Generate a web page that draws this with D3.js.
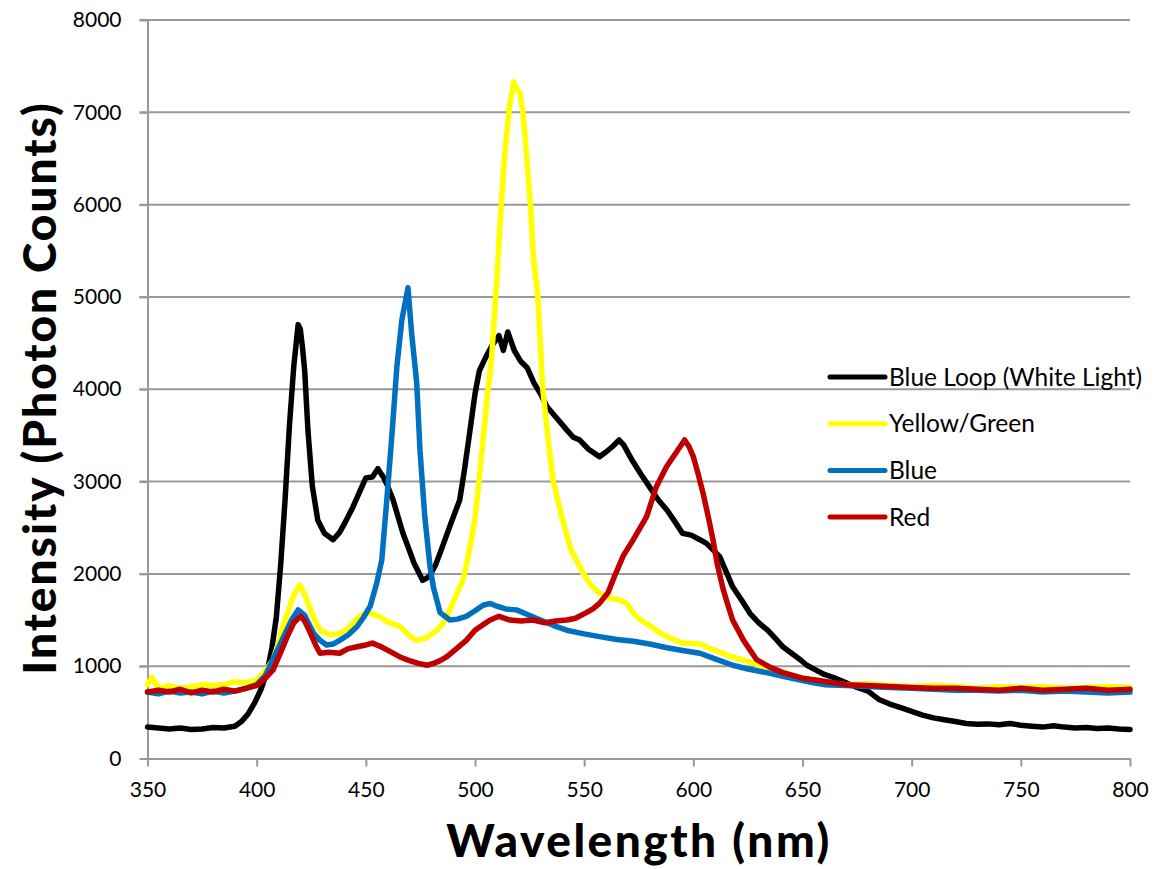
<!DOCTYPE html>
<html>
<head>
<meta charset="utf-8">
<script src="https://cdn.jsdelivr.net/npm/d3@7"></script>
<style>
  body { margin: 0; background: #fff; }
  svg text { font-family: Lato, "Open Sans", sans-serif; fill: #000; }
  .axis path, .axis line { stroke: #999; stroke-width: 2; }
  .grid { stroke: #999; stroke-width: 2; }
  .series { fill: none; stroke-width: 5.5; stroke-linejoin: round; stroke-linecap: round; }
</style>
</head>
<body>
<div id="chart"></div>
<script>
// tick values
var xTicks = [350, 400, 450, 500, 550, 600, 650, 700, 750, 800];
var yTicks = [0, 1000, 2000, 3000, 4000, 5000, 6000, 7000, 8000];

// Blue Loop (White Light)
var blackWl = [350, 355, 360, 365, 370, 375, 380, 385, 390, 393, 396, 399, 402, 405, 407, 409, 411, 413, 415, 417, 419, 420, 421, 422, 423.5, 425.5, 428, 431, 435, 438, 441, 444, 447, 450, 453, 455.5, 458, 460, 462.5, 465, 467, 470, 472, 476, 479, 482, 485, 489, 493, 495, 497.5, 500, 502, 505, 508, 511, 513, 515, 518, 521, 524, 527, 530, 533, 537, 542, 545, 548, 552, 557, 560, 563, 566, 568, 572, 576, 580, 584, 588, 592, 595, 599, 603, 606, 609, 612, 616, 618, 622, 626, 630, 634, 638, 641, 645, 649, 652, 656, 660, 664, 670, 675, 680, 685, 690, 695, 700, 705, 710, 715, 720, 725, 730, 735, 740, 745, 750, 755, 760, 765, 770, 775, 780, 785, 790, 795, 800];
var blackVal = [340, 330, 320, 330, 315, 320, 335, 330, 350, 400, 480, 600, 750, 960, 1200, 1530, 2100, 2800, 3600, 4250, 4700, 4650, 4450, 4200, 3550, 2950, 2580, 2440, 2370, 2450, 2580, 2720, 2880, 3040, 3050, 3140, 3050, 2950, 2800, 2600, 2440, 2250, 2120, 1930, 1970, 2100, 2290, 2550, 2800, 3100, 3520, 3950, 4200, 4350, 4480, 4580, 4420, 4620, 4420, 4300, 4230, 4070, 3950, 3810, 3700, 3560, 3480, 3450, 3350, 3270, 3320, 3380, 3450, 3400, 3230, 3080, 2940, 2800, 2690, 2550, 2440, 2420, 2370, 2330, 2260, 2190, 1970, 1860, 1720, 1570, 1470, 1390, 1290, 1210, 1140, 1070, 1010, 960, 910, 880, 820, 770, 730, 640, 590, 550, 510, 470, 440, 420, 400, 380, 370, 375, 365, 380, 360, 350, 340, 355, 340, 330, 335, 325, 330, 320, 315];

// Yellow/Green
var yellowWl = [350, 352, 355, 360, 365, 370, 375, 380, 385, 390, 395, 400, 404, 407.5, 410, 412, 414.5, 416.6, 419.8, 422, 424, 427, 429, 433.6, 437, 441, 444, 447, 451, 456, 460, 465.6, 470, 473, 477, 481, 485, 488.5, 491, 494.5, 497, 500, 502, 503.7, 505.5, 507.5, 510, 512, 513.8, 516, 517.8, 519, 520.5, 522, 523.8, 525.6, 526.6, 528.8, 531, 533.4, 535.7, 539.7, 544, 549.5, 553, 557, 561, 566, 569.5, 573, 576, 580, 584.7, 590, 595, 603, 610, 618, 625, 633.6, 640, 648.7, 655, 660, 670, 680, 690, 700, 710, 720, 730, 740, 750, 760, 770, 780, 790, 800];
var yellowVal = [800, 880, 760, 790, 760, 780, 800, 790, 800, 830, 820, 850, 950, 1070, 1250, 1430, 1600, 1750, 1880, 1780, 1650, 1480, 1390, 1340, 1350, 1390, 1470, 1540, 1580, 1540, 1480, 1430, 1330, 1280, 1300, 1360, 1450, 1610, 1750, 1930, 2200, 2600, 3050, 3450, 3900, 4300, 5200, 6000, 6600, 7100, 7330, 7250, 7220, 6990, 6480, 5940, 5470, 5000, 4010, 3480, 3020, 2620, 2260, 2010, 1880, 1790, 1740, 1720, 1680, 1560, 1500, 1440, 1360, 1300, 1250, 1240, 1170, 1100, 1050, 990, 940, 880, 850, 820, 800, 810, 790, 780, 790, 780, 760, 780, 770, 780, 760, 770, 780, 770];

// Blue
var blueWl = [350, 355, 360, 365, 370, 375, 380, 385, 390, 395, 400, 404, 408, 412, 416, 419, 422, 426, 429, 432, 435, 438, 442, 446, 449, 452, 455, 457.3, 459.6, 462, 464.2, 466.5, 469.3, 471, 473.3, 474.8, 477, 479.4, 481, 484, 488.5, 492, 496, 500, 503.7, 507, 510, 514, 519, 524, 530, 536, 542, 550, 557, 565, 572.5, 580, 588, 595, 603, 610, 618, 625, 633.6, 641, 649, 655, 660, 670, 680, 690, 700, 710, 720, 730, 740, 750, 760, 770, 780, 790, 800];
var blueVal = [720, 700, 730, 710, 720, 700, 730, 710, 730, 760, 800, 900, 1100, 1300, 1500, 1610, 1550, 1360, 1280, 1230, 1240, 1280, 1340, 1430, 1530, 1650, 1900, 2150, 2800, 3520, 4240, 4750, 5100, 4600, 4070, 3340, 2620, 2080, 1850, 1580, 1500, 1510, 1540, 1600, 1660, 1680, 1650, 1620, 1610, 1560, 1500, 1440, 1390, 1350, 1320, 1290, 1270, 1240, 1200, 1170, 1140, 1080, 1010, 970, 930, 890, 850, 820, 800, 790, 780, 770, 760, 750, 740, 740, 730, 740, 720, 730, 720, 710, 720];

// Red
var redWl = [350, 355, 360, 365, 370, 375, 380, 385, 390, 395, 400, 404, 407.5, 411, 414, 417, 420, 422, 424, 427, 429, 433, 438, 442, 446, 450, 453, 457, 461, 465.6, 470, 474, 478, 481, 484, 487, 491, 496, 500, 503.7, 507, 511, 516, 521, 526.6, 532, 537, 542, 546, 551, 554, 557, 561, 564, 568, 572.5, 578.6, 583, 587.7, 592, 596, 598, 600, 602, 604.5, 607, 609, 611, 613.7, 616, 618, 623, 629, 635, 641, 650, 656, 664, 670, 680, 690, 700, 710, 720, 730, 740, 750, 760, 770, 780, 790, 800];
var redVal = [720, 740, 720, 750, 710, 740, 720, 750, 730, 760, 790, 870, 960, 1150, 1320, 1470, 1540, 1490, 1390, 1230, 1140, 1150, 1140, 1190, 1210, 1230, 1250, 1210, 1160, 1100, 1060, 1030, 1010, 1030, 1060, 1100, 1180, 1280, 1390, 1450, 1500, 1540, 1500, 1490, 1500, 1470, 1490, 1500, 1520, 1580, 1620, 1680, 1800, 1980, 2200, 2370, 2620, 2940, 3160, 3310, 3450, 3380, 3270, 3100, 2870, 2600, 2370, 2100, 1830, 1650, 1500, 1280, 1070, 990, 930, 870, 850, 820, 800, 790, 780, 770, 760, 760, 750, 740, 760, 740, 750, 760, 740, 750];

var seriesNames = ["Blue Loop (White Light)", "Yellow/Green", "Blue", "Red"];
var seriesColors = ["#000000", "#FFFF00", "#0070C0", "#C00000"];

var width = 1163, height = 869;
var margin = {top: 20, right: 33, bottom: 110.5, left: 147.5};

var svg = d3.select("#chart").append("svg")
    .attr("width", width)
    .attr("height", height);

var xScale = d3.scaleLinear().domain([350, 800]).range([margin.left, width - margin.right]);
var yScale = d3.scaleLinear().domain([0, 8000]).range([height - margin.bottom, margin.top]);

// horizontal grid lines
svg.selectAll("line.grid").data(yTicks.slice(1)).enter()
    .append("line")
    .attr("class", "grid")
    .attr("x1", margin.left - 8)
    .attr("x2", width - margin.right)
    .attr("y1", function(d) { return yScale(d); })
    .attr("y2", function(d) { return yScale(d); });

// axes
svg.append("g")
    .attr("class", "axis")
    .attr("transform", `translate(${margin.left},0)`)
    .call(d3.axisLeft(yScale).tickValues(yTicks).tickFormat(d3.format("d"))
        .tickSize(8).tickPadding(18).tickSizeOuter(0));
svg.append("g")
    .attr("class", "axis")
    .attr("transform", `translate(0,${yScale(0)})`)
    .call(d3.axisBottom(xScale).tickValues(xTicks).tickFormat(d3.format("d"))
        .tickSize(8).tickPadding(16).tickSizeOuter(0));
svg.selectAll(".axis text")
    .style("font-size", "21px")
    .style("font-family", "Lato, sans-serif");

// series lines (black first, red on top)
var seriesData = [
    {wl: blackWl, val: blackVal},
    {wl: yellowWl, val: yellowVal},
    {wl: blueWl, val: blueVal},
    {wl: redWl, val: redVal}
];
var line = d3.line()
    .x(function(d) { return xScale(d[0]); })
    .y(function(d) { return yScale(d[1]); });

seriesData.forEach(function(s, i) {
    var pts = s.wl.map(function(w, j) { return [w, s.val[j]]; });
    svg.append("path")
        .datum(pts)
        .attr("class", "series")
        .attr("stroke", seriesColors[i])
        .attr("d", line);
});

// legend
var legend = svg.append("g").attr("transform", "translate(830,377)");
seriesNames.forEach(function(name, i) {
    var g = legend.append("g").attr("transform", `translate(0,${i * 46.7})`);
    g.append("line")
        .attr("x1", 0).attr("x2", 55)
        .attr("stroke", seriesColors[i])
        .attr("stroke-width", 5)
        .attr("stroke-linecap", "round");
    g.append("text")
        .attr("x", 59)
        .attr("dy", "0.35em")
        .style("font-size", "24.5px")
        .text(name);
});

// axis titles
svg.append("text")
    .attr("x", 639)
    .attr("y", 857)
    .attr("text-anchor", "middle")
    .style("font-size", "46px")
    .style("font-weight", "900")
    .style("letter-spacing", "2.5px")
    .text("Wavelength (nm)");

svg.append("text")
    .attr("transform", "translate(56,388) rotate(-90)")
    .attr("text-anchor", "middle")
    .style("font-size", "46px")
    .style("font-weight", "900")
    .style("letter-spacing", "2px")
    .text("Intensity (Photon Counts)");
</script>
</body>
</html>
